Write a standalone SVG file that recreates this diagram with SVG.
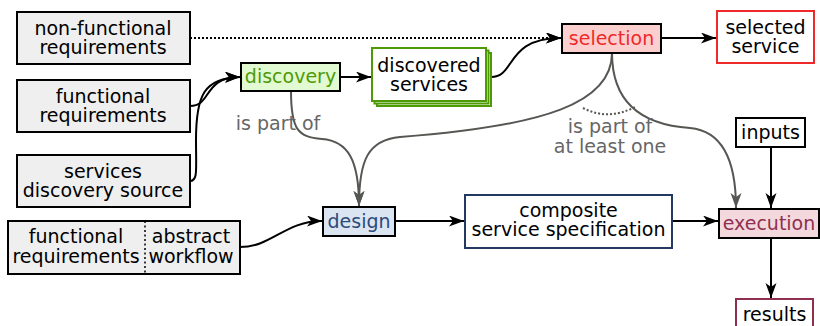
<svg xmlns="http://www.w3.org/2000/svg" width="820" height="326" viewBox="0 0 820 326">
<defs>
<marker id="ab" markerUnits="userSpaceOnUse" markerWidth="16" markerHeight="12" refX="15" refY="5.5" orient="auto"><path d="M0,0 L15,5.5 L0,11 L4,5.5 Z" fill="#000"/></marker>
<marker id="ag" markerUnits="userSpaceOnUse" markerWidth="16" markerHeight="12" refX="15" refY="5.5" orient="auto"><path d="M0,0 L15,5.5 L0,11 L4,5.5 Z" fill="#555753"/></marker>
<style>
text{font-family:"DejaVu Sans","Liberation Sans",sans-serif;font-size:19px;text-anchor:middle;fill:#000}
.gb{fill:#efefef;stroke:#000;stroke-width:2}
.c{fill:none;stroke:#000;stroke-width:2}
.g{fill:none;stroke:#555753;stroke-width:2}
.lbl{fill:#666}
</style>
</defs>
<g id="connectors">
<path class="c" d="M190,38 L561,38" stroke-dasharray="2,2" marker-end="url(#ab)"/>
<path class="c" d="M190,106 C212,106 203,77 240,77" marker-end="url(#ab)"/>
<path class="c" d="M190,181 C198,181 196,170 196,140 C196,95 204,78 240,77" marker-end="url(#ab)"/>
<path class="c" d="M340,77 L371,77" marker-end="url(#ab)"/>
<path class="c" d="M491,77 C516,77 505,38 561,38" marker-end="url(#ab)"/>
<path class="c" d="M661,38 L716,38" marker-end="url(#ab)"/>
<path class="c" d="M240,247 C272,247 285,221 322,221" marker-end="url(#ab)"/>
<path class="c" d="M395,221 L464,221" marker-end="url(#ab)"/>
<path class="c" d="M672,221 L718,221" marker-end="url(#ab)"/>
<path class="c" d="M771,147 L771,208" marker-end="url(#ab)"/>
<path class="c" d="M771,238 L771,298" marker-end="url(#ab)"/>
<path class="g" d="M291,91 C291,130 298,137 322,139 C348,141 359,160 359,206" marker-end="url(#ag)"/>
<path class="g" d="M612,53 C612,103 545,126 400,137 C368,140 359,160 359,206" marker-end="url(#ag)"/>
<path class="g" d="M612,53 C612,105 645,125 690,128 C722,131 736,160 736,208" marker-end="url(#ag)"/>
<path d="M583,108 Q608,121 635,107" fill="none" stroke="#555753" stroke-width="2" stroke-dasharray="2,2"/>
<text class="lbl" x="278" y="130">is part of</text>
<text class="lbl" x="610" y="133">is part of</text>
<text class="lbl" x="610" y="152.5">at least one</text>
</g>
<g id="nonfunc">
<rect class="gb" x="17" y="12" width="173" height="52"/>
<text x="103" y="34.5">non-functional</text>
<text x="103" y="54">requirements</text>
</g>
<g id="funcreq">
<rect class="gb" x="17" y="80" width="173" height="52"/>
<text x="103" y="102.5">functional</text>
<text x="103" y="122">requirements</text>
</g>
<g id="sds">
<rect class="gb" x="17" y="155" width="173" height="52"/>
<text x="103" y="177.5">services</text>
<text x="103" y="197">discovery source</text>
</g>
<g id="frwf">
<rect class="gb" x="8" y="221" width="232" height="53"/>
<line x1="145" y1="221" x2="145" y2="274" stroke="#000" stroke-width="1.5" stroke-dasharray="2,2.5"/>
<text x="76" y="243">functional</text>
<text x="76" y="262.5">requirements</text>
<text x="191" y="243">abstract</text>
<text x="191" y="262.5">workflow</text>
</g>
<g id="discovery">
<rect x="241" y="63" width="99" height="28" fill="#e2fad1" stroke="#000" stroke-width="2"/>
<text x="290.5" y="83" style="fill:#4e9a06">discovery</text>
</g>
<g id="discovered">
<rect x="377" y="53" width="114" height="53" fill="#fff" stroke="#4e9a06" stroke-width="2"/>
<rect x="374.5" y="50.5" width="114" height="53" fill="#fff" stroke="#4e9a06" stroke-width="2"/>
<rect x="372" y="48" width="114" height="53" fill="#fff" stroke="#4e9a06" stroke-width="2"/>
<text x="429" y="71.5">discovered</text>
<text x="429" y="91">services</text>
</g>
<g id="selection">
<rect x="562" y="24" width="99" height="29" fill="#fccfcf" stroke="#000" stroke-width="2"/>
<text x="611.5" y="45" style="fill:#ef2929">selection</text>
</g>
<g id="selected">
<rect x="717" y="11" width="97" height="52" fill="#fff" stroke="#ef2929" stroke-width="2"/>
<text x="765.5" y="33.5">selected</text>
<text x="765.5" y="53">service</text>
</g>
<g id="inputs">
<rect x="736" y="118" width="69" height="29" fill="#fff" stroke="#000" stroke-width="2"/>
<text x="770.5" y="139">inputs</text>
</g>
<g id="design">
<rect x="323" y="207" width="72" height="29" fill="#dbe5f1" stroke="#000" stroke-width="2"/>
<text x="359" y="228" style="fill:#2c4a7c">design</text>
</g>
<g id="composite">
<rect x="465" y="195" width="207" height="53" fill="#fff" stroke="#23395f" stroke-width="2"/>
<text x="568.5" y="216.5">composite</text>
<text x="568.5" y="236">service specification</text>
</g>
<g id="execution">
<rect x="719" y="209" width="100" height="29" fill="#f3d9de" stroke="#000" stroke-width="2"/>
<text x="769" y="230" style="fill:#8f2f4f">execution</text>
</g>
<g id="results">
<rect x="736" y="299" width="77" height="32" fill="#fff" stroke="#8f2f4f" stroke-width="2"/>
<text x="774.5" y="321">results</text>
</g>
</svg>
